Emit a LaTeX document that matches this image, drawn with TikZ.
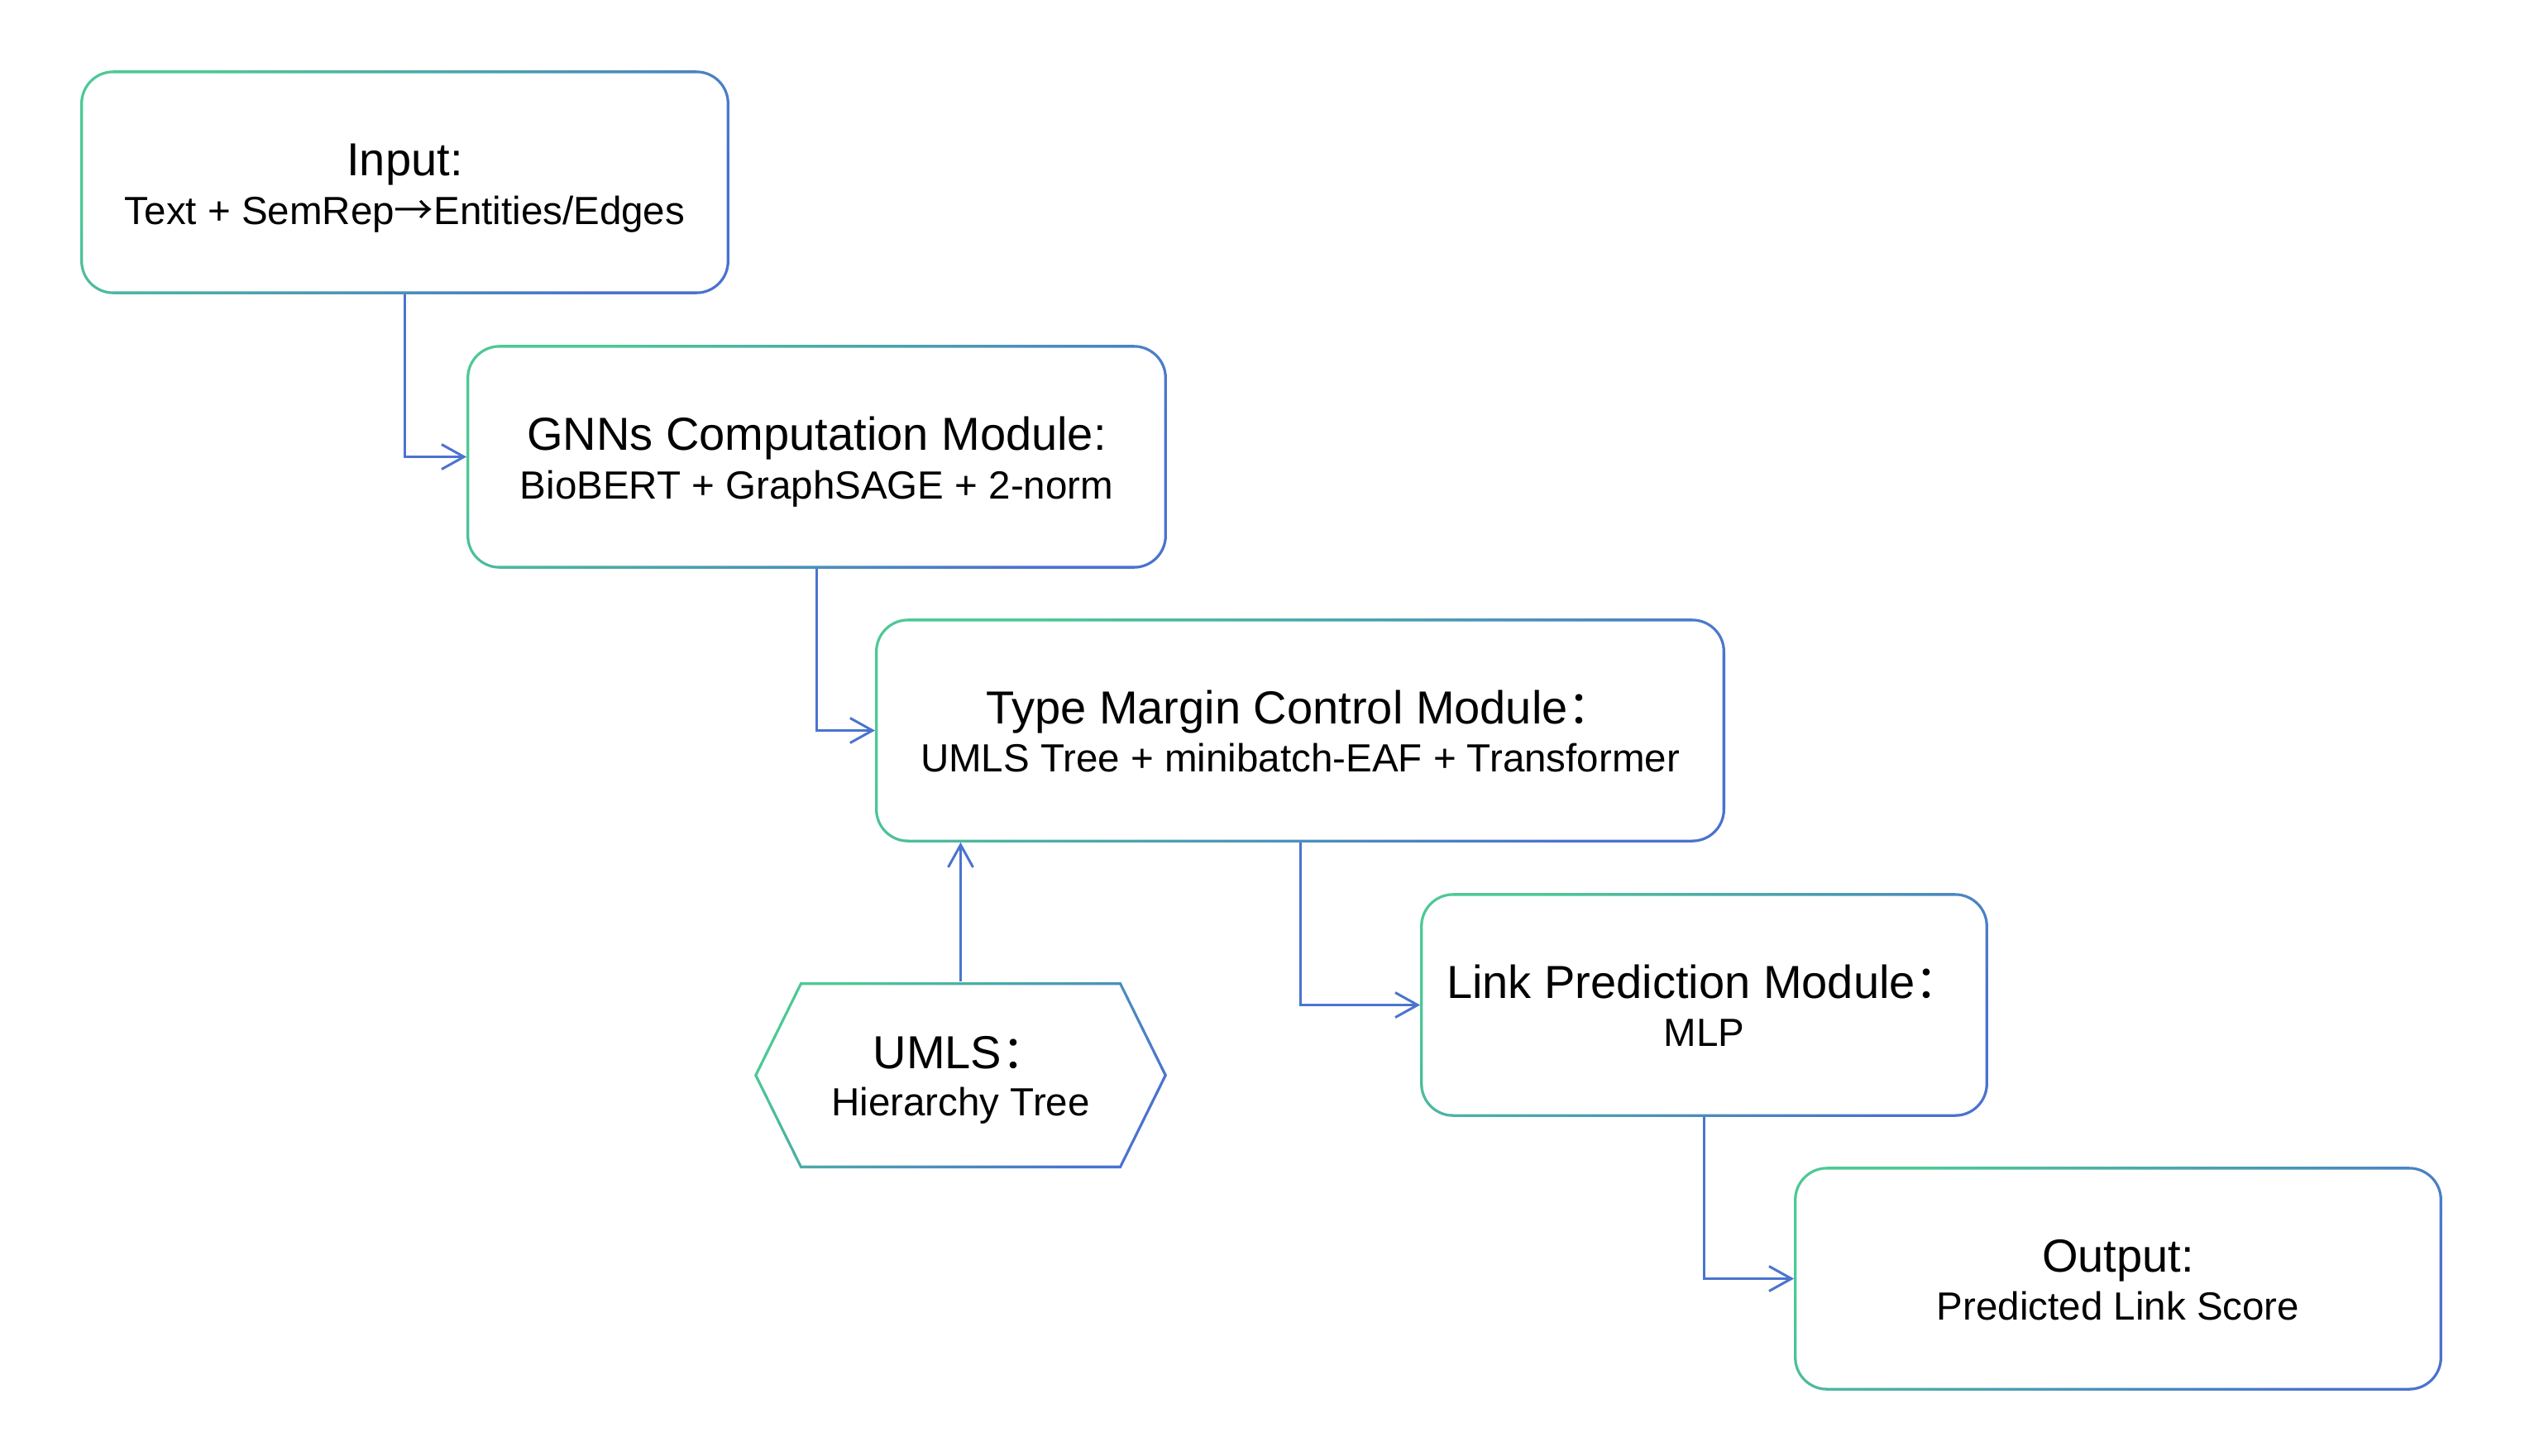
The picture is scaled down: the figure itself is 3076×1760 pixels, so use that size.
\documentclass[tikz,border=0pt]{standalone}
\usepackage{fontspec}
\setmainfont{Liberation Sans}
\newfontfamily\cjk{Noto Sans CJK SC}
\usetikzlibrary{arrows.meta,calc}
\definecolor{gA}{HTML}{4CC994}
\definecolor{gB}{HTML}{4A72CF}
\definecolor{lineblue}{HTML}{4A74CF}
\tikzset{
  boxnode/.style={inner sep=0, minimum height=2.69cm},
  ttl/.style={anchor=base, inner sep=0, font=\fontsize{15.93}{19}\selectfont},
  bdy/.style={anchor=base, inner sep=0, font=\fontsize{13.51}{16}\selectfont},
  grad/.style={top color=gA, bottom color=gB, shading angle=45},
  conn/.style={draw=lineblue, line width=0.85pt, -{Straight Barb[length=0.27cm,width=0.30cm]}},
}
\newcommand\gradframe[1]{%
  \shade[grad, rounded corners=0.4cm] (#1.south west) rectangle (#1.north east);
  \fill[white, rounded corners=0.367cm] ([shift={(3.3,-3.3)}]#1.south west) rectangle ([shift={(-3.3,3.3)}]#1.north east);
}
\begin{document}
\begin{tikzpicture}[x=0.01cm, y=-0.01cm]
\fill[white] (0,0) rectangle (3076,1760);
\useasboundingbox (0,0) rectangle (3076,1760);

% box nodes
\node[boxnode, minimum width=7.83cm] (in) at (489.5,220.5) {};
\node[boxnode, minimum width=8.45cm] (gnn) at (987.5,552.5) {};
\node[boxnode, minimum width=10.26cm] (ty) at (1572,883.5) {};
\node[boxnode, minimum width=6.85cm] (lk) at (2060.5,1215.5) {};
\node[boxnode, minimum width=7.82cm] (out) at (2561,1546.5) {};
\node[inner sep=0, minimum width=4.99cm, minimum height=2.25cm] (um) at (1161.5,1300.5) {};

\gradframe{in}
\gradframe{gnn}
\gradframe{ty}
\gradframe{lk}
\gradframe{out}

% hexagon
\shade[grad] ($(um)+(-249.5,0)$) -- ($(um)+(-194,-112.5)$) -- ($(um)+(194,-112.5)$) -- ($(um)+(249.5,0)$) -- ($(um)+(194,112.5)$) -- ($(um)+(-194,112.5)$) -- cycle;
\fill[white] ($(um)+(-245.8,0)$) -- ($(um)+(-192.0,-109.2)$) -- ($(um)+(192.0,-109.2)$) -- ($(um)+(245.8,0)$) -- ($(um)+(192.0,109.2)$) -- ($(um)+(-192.0,109.2)$) -- cycle;

% texts
\node[ttl] (in-t) at (489.5,212.5) {Input:};
\node[bdy] (in-b) at (489.5,271) {Text + SemRep{\cjk →}Entities/Edges};
\node[ttl] (gnn-t) at (987.5,544.5) {GNNs Computation Module:};
\node[bdy] (gnn-b) at (987.5,603) {BioBERT + GraphSAGE + 2-norm};
\node[ttl] (ty-t) at (1572,875.5) {Type Margin Control Module{\cjk ：}};
\node[bdy] (ty-b) at (1572,933.5) {UMLS Tree + minibatch-EAF + Transformer};
\node[ttl] (lk-t) at (2060.5,1207.5) {Link Prediction Module{\cjk ：}};
\node[bdy] (lk-b) at (2060.5,1265.5) {MLP};
\node[ttl] (out-t) at (2561,1538.5) {Output:};
\node[bdy] (out-b) at (2561,1596.5) {Predicted Link Score};
\node[ttl] (um-t) at (1161.5,1292.5) {UMLS{\cjk ：}};
\node[bdy] (um-b) at (1161.5,1349.5) {Hierarchy Tree};

% connectors
\draw[conn] (in.south) |- (gnn.west);
\draw[conn] (gnn.south) |- (ty.west);
\draw[conn] (ty.south) |- (lk.west);
\draw[conn] (lk.south) |- (out.west);
\draw[conn] (um.north) -- (um.north |- ty.south);
\end{tikzpicture}
\end{document}
